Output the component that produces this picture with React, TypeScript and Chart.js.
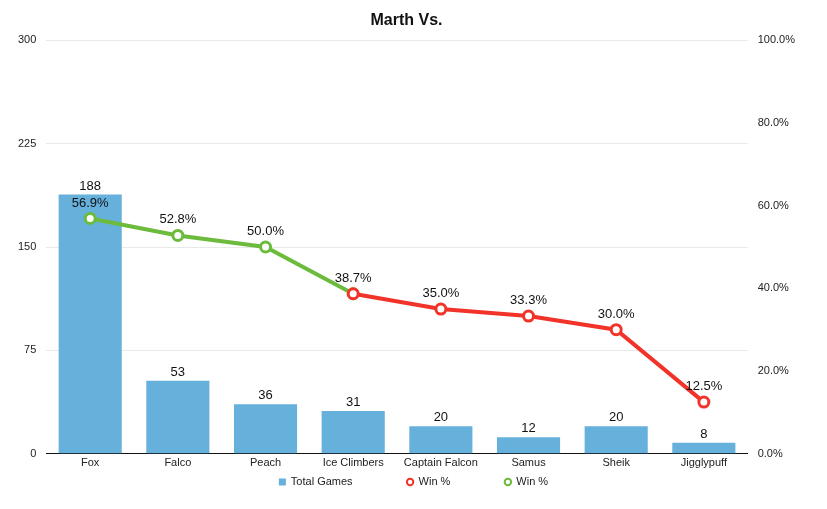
import React, { useEffect, useRef } from "react";
import { Chart, registerables } from "chart.js";

Chart.register(...registerables);

const characters = ["Fox", "Falco", "Peach", "Ice Climbers", "Captain Falcon", "Samus", "Sheik", "Jigglypuff"];
const totalGames = [188, 53, 36, 31, 20, 12, 20, 8];
const winLow = [null, null, null, 38.7, 35.0, 33.3, 30.0, 12.5];
const winHigh = [56.9, 52.8, 50.0, 38.7, null, null, null, null];

const FONT = "'Liberation Sans', Arial, sans-serif";
const BAR_BLUE = "#66b0dc";
const RED = "#f1332a";
const GREEN = "#6cbb3c";

// numbers above bars and points; the shared Ice Climbers point gets one label
const valueLabels = {
  id: "valueLabels",
  afterDatasetsDraw(chart: any) {
    const ctx = chart.ctx;
    const done = new Set<number>();
    ctx.save();
    ctx.font = `13px ${FONT}`;
    ctx.fillStyle = "#111";
    ctx.textAlign = "center";
    ctx.textBaseline = "bottom";
    chart.data.datasets.forEach((ds: any, i: number) => {
      const meta = chart.getDatasetMeta(i);
      meta.data.forEach((el: any, j: number) => {
        const v = ds.data[j];
        if (v == null) return;
        if (ds.type === "bar") {
          ctx.fillText(String(v), el.x, el.y - 2);
        } else {
          if (done.has(j)) return;
          done.add(j);
          ctx.fillText(v.toFixed(1) + "%", el.x, el.y - 9);
        }
      });
    });
    ctx.restore();
  },
};

// small legend drawn by hand so the wide spacing does not eat vertical room
const bottomLegend = {
  id: "bottomLegend",
  afterDraw(chart: any) {
    const ctx = chart.ctx;
    const items = chart.data.datasets.map((ds: any) => ({
      text: ds.label,
      bar: ds.type === "bar",
      color: ds.type === "bar" ? ds.backgroundColor : ds.borderColor,
    }));
    const box = 7;
    const gap = 5;
    const spacing = 54;
    ctx.save();
    ctx.font = `11px ${FONT}`;
    const widths = items.map((it: any) => box + gap + ctx.measureText(it.text).width);
    const total = widths.reduce((a: number, b: number) => a + b, 0) + spacing * (items.length - 1);
    let x = chart.width / 2 - total / 2;
    const y = chart.height - 27;
    ctx.textBaseline = "middle";
    items.forEach((it: any, i: number) => {
      if (it.bar) {
        ctx.fillStyle = it.color;
        ctx.fillRect(x, y - box / 2, box, box);
      } else {
        ctx.beginPath();
        ctx.arc(x + box / 2, y, 3.2, 0, Math.PI * 2);
        ctx.strokeStyle = it.color;
        ctx.lineWidth = 2;
        ctx.stroke();
      }
      ctx.fillStyle = "#222";
      ctx.fillText(it.text, x + box + gap, y);
      x += widths[i] + spacing;
    });
    ctx.restore();
  },
};

export default function App() {
  const canvasRef = useRef<HTMLCanvasElement>(null);

  useEffect(() => {
    document.body.style.margin = "0";
    if (!canvasRef.current) return;
    const lineStyle = (color: string) => ({
      borderColor: color,
      backgroundColor: "#ffffff",
      borderWidth: 4,
      pointRadius: 5,
      pointBorderWidth: 3,
      pointBackgroundColor: "#ffffff",
      pointBorderColor: color,
      yAxisID: "y1",
    });
    const chart = new Chart(canvasRef.current, {
      type: "bar",
      data: {
        labels: characters,
        datasets: [
          {
            type: "bar",
            label: "Total Games",
            data: totalGames,
            backgroundColor: BAR_BLUE,
            yAxisID: "y",
            order: 3,
            categoryPercentage: 0.72,
            barPercentage: 1,
          },
          { type: "line", label: "Win %", data: winLow, ...lineStyle(RED), order: 1 },
          { type: "line", label: "Win %", data: winHigh, ...lineStyle(GREEN), order: 2 },
        ] as any,
      },
      options: {
        responsive: false,
        animation: false,
        layout: { padding: { left: 8, right: 22, top: 0, bottom: 36 } },
        plugins: {
          title: {
            display: true,
            text: "Marth Vs.",
            color: "#111",
            font: { family: FONT, size: 16, weight: "bold" },
            padding: { top: 11, bottom: 10 },
          },
          legend: { display: false },
          tooltip: { enabled: false },
        },
        scales: {
          x: {
            grid: { display: false, drawTicks: false },
            border: { color: "#111", width: 1 },
            ticks: { color: "#222", font: { family: FONT, size: 11 }, padding: 3 },
          },
          y: {
            position: "left",
            min: 0,
            max: 300,
            ticks: { stepSize: 75, color: "#222", font: { family: FONT, size: 11 }, padding: 10 },
            grid: { color: "#e9e9e9", drawTicks: false },
            border: { display: false },
          },
          y1: {
            position: "right",
            min: 0,
            max: 100,
            ticks: {
              stepSize: 20,
              color: "#222",
              font: { family: FONT, size: 11 },
              padding: 10,
              callback: (v: any) => Number(v).toFixed(1) + "%",
            },
            grid: { display: false, drawTicks: false },
            border: { display: false },
          },
        },
      } as any,
      plugins: [valueLabels, bottomLegend],
    });
    return () => chart.destroy();
  }, []);

  return (
    <div style={{ width: 827, height: 509 }}>
      <canvas ref={canvasRef} width={827} height={509} />
    </div>
  );
}
